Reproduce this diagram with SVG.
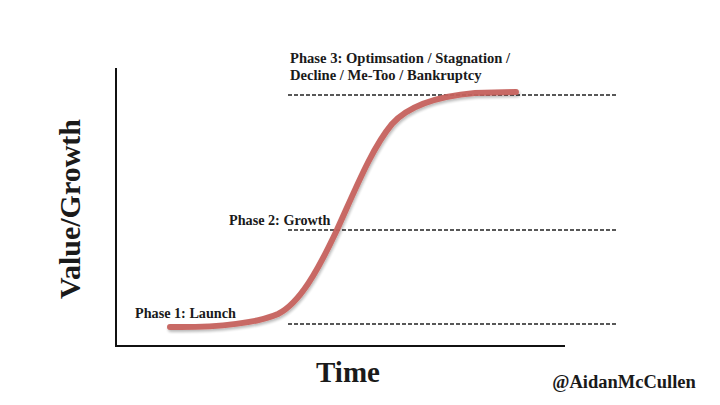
<svg xmlns="http://www.w3.org/2000/svg" width="720" height="405" viewBox="0 0 720 405">
<style>
.lbl{font-family:"Liberation Serif","DejaVu Serif",serif;font-weight:bold;fill:#1a1a1a}
.dash{stroke:#222;stroke-width:1.3;stroke-dasharray:4 2;fill:none}
.axis{stroke:#111;stroke-width:2;fill:none}
</style>
<defs>
<filter id="sh" x="-10%" y="-10%" width="120%" height="120%">
<feGaussianBlur in="SourceAlpha" stdDeviation="1.5"/>
<feOffset dx="1" dy="2" result="b"/>
<feComponentTransfer><feFuncA type="linear" slope="0.3"/></feComponentTransfer>
<feMerge><feMergeNode/><feMergeNode in="SourceGraphic"/></feMerge>
</filter>
</defs>
<rect width="720" height="405" fill="#fff"/>
<g id="axes">
<path class="axis" d="M116,68 V346 H565"/>
</g>
<g id="connectors">
<path class="dash" d="M288,95 H616"/>
<path class="dash" d="M288,230 H616"/>
<path class="dash" d="M288,324 H616"/>
</g>
<g id="curve">
<path d="M170,327 C220,328 260,322 278,314 C300,303 318,270 336,232 C356,188 372,148 392,124 C410,104 440,96 475,93 L516,92" fill="none" stroke="#c6625d" stroke-width="6" stroke-linecap="round" filter="url(#sh)" opacity="0.95"/>
</g>
<g id="phase3">
<text class="lbl" x="290" y="63" font-size="14.6">Phase 3: Optimsation / Stagnation /</text>
<text class="lbl" x="290" y="80" font-size="14.6">Decline / Me-Too / Bankruptcy</text>
</g>
<g id="phase2"><text class="lbl" x="229" y="225" font-size="14.2">Phase 2: Growth</text></g>
<g id="phase1"><text class="lbl" x="135" y="318" font-size="14.2">Phase 1: Launch</text></g>
<g id="ylabel"><text class="lbl" transform="translate(80,209) rotate(-90)" text-anchor="middle" font-size="30">Value/Growth</text></g>
<g id="xlabel"><text class="lbl" x="348" y="382" text-anchor="middle" font-size="29">Time</text></g>
<g id="credit"><text class="lbl" x="624" y="388" text-anchor="middle" font-size="18.5">@AidanMcCullen</text></g>
</svg>
